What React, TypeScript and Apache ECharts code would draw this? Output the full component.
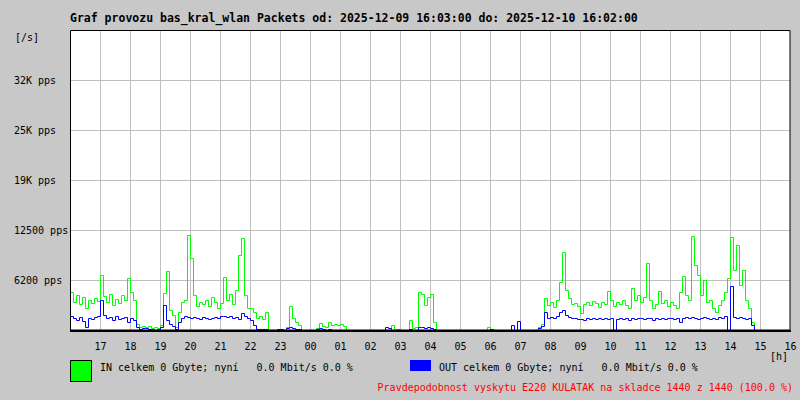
import React, { useEffect, useRef } from 'react';
import * as echarts from 'echarts';

// minutes per sample (starts at 16:00)
const STEP_MIN = 6;

// IN packets [pps]
const inPps = [
  4750, 3500, 4375, 3250, 4125, 2750, 3750, 3375, 4000, 3625,
  6875, 4250, 3500, 4500, 3125, 3875, 3375, 4375, 3750, 6500,
  4750, 3750, 750, 375, 500, 375, 500, 250, 375, 250,
  625, 4625, 7375, 2500, 1875, 375, 2250, 3500, 3750, 11875,
  9000, 4375, 3000, 3500, 3250, 3750, 3000, 4125, 3500, 2750,
  3375, 6625, 3750, 4500, 3250, 5000, 9375, 11500, 4375, 2750,
  2750, 2250, 1500, 1750, 1375, 2250, 0, 0, 0, 0,
  0, 0, 375, 3000, 1500, 1000, 625, 0, 0, 0,
  0, 0, 250, 875, 500, 375, 1000, 625, 750, 625,
  750, 500, 0, 0, 0, 0, 0, 0, 0, 0,
  0, 0, 0, 0, 0, 0, 0, 625, 125, 125,
  0, 0, 0, 1250, 250, 375, 4750, 4500, 3125, 4125,
  4500, 1000, 0, 0, 0, 0, 0, 0, 0, 0,
  0, 0, 0, 0, 0, 0, 0, 0, 0, 375,
  0, 0, 0, 0, 0, 0, 0, 0, 0, 0,
  0, 0, 0, 0, 0, 0, 375, 750, 4000, 3125,
  3500, 2875, 3750, 6000, 9750, 5000, 4000, 3250, 3375, 3000,
  2125, 3250, 3500, 3125, 3625, 3375, 2875, 3500, 3250, 4875,
  3750, 3000, 3500, 3250, 3750, 3125, 2750, 5250, 3750, 4375,
  3500, 4125, 8375, 3750, 2750, 3250, 4875, 3375, 3750, 3000,
  3500, 3125, 2750, 4750, 6750, 4375, 3750, 11750, 8125, 6875,
  4375, 6250, 3500, 3750, 2750, 2250, 3125, 3750, 4750, 6500,
  11625, 7500, 10625, 5625, 7500, 3750, 2750, 1000, 0, 0,
  0, 0, 0, 0, 0, 0, 0, 0, 0, 0,
];

// OUT packets [pps]
const outPps = [
  1750, 1500, 1250, 1625, 1125, 375, 1500, 1375, 1625, 1750,
  3750, 1875, 1500, 1625, 1250, 1750, 1375, 1500, 1625, 1000,
  1500, 1250, 375, 125, 250, 250, 125, 125, 0, 125,
  375, 3125, 1250, 750, 500, 125, 1000, 1500, 1750, 1625,
  1500, 1625, 1500, 1375, 1625, 1500, 1375, 1500, 1625, 1500,
  1750, 1750, 1625, 1750, 1500, 1625, 1375, 2125, 1750, 1500,
  1250, 625, 125, 125, 125, 125, 0, 0, 0, 125,
  125, 0, 250, 375, 250, 125, 125, 0, 0, 0,
  0, 0, 125, 250, 125, 0, 125, 0, 0, 0,
  0, 0, 0, 0, 0, 0, 0, 0, 0, 0,
  0, 0, 0, 0, 0, 375, 250, 0, 0, 0,
  0, 0, 0, 125, 0, 0, 375, 375, 250, 375,
  250, 125, 0, 0, 0, 0, 0, 0, 0, 0,
  0, 0, 0, 0, 0, 0, 0, 0, 0, 0,
  125, 0, 0, 0, 0, 0, 0, 625, 0, 1125,
  0, 0, 0, 0, 0, 0, 250, 500, 2250, 1500,
  1625, 1500, 1750, 2250, 2500, 1875, 1625, 1500, 1500, 1375,
  1375, 1250, 1500, 1375, 1500, 1375, 1500, 1375, 1500, 1375,
  1500, 0, 1375, 1500, 1375, 1500, 1250, 1500, 1375, 1500,
  1500, 1375, 1500, 1500, 1250, 1500, 1375, 1500, 1375, 1500,
  1500, 1375, 1500, 1000, 1500, 1625, 1500, 1625, 1500, 1375,
  1500, 1625, 1500, 1375, 1500, 1375, 1625, 1500, 1750, 0,
  5500, 1625, 1500, 1625, 1500, 1375, 1500, 625, 0, 0,
  0, 0, 0, 0, 0, 0, 0, 0, 0, 0,
];

const xTickLabels = ['', '17', '18', '19', '20', '21', '22', '23', '00', '01', '02', '03', '04',
  '05', '06', '07', '08', '09', '10', '11', '12', '13', '14', '15', '16'];
const yTickLabels = ['', '6200 pps', '12500 pps', '19K pps', '25K pps', '32K pps', ''];

const titleText = 'Graf provozu bas_kral_wlan Packets od: 2025-12-09 16:03:00 do: 2025-12-10 16:02:00';
const inLegend = 'IN celkem 0 Gbyte; nyní   0.0 Mbit/s 0.0 %';
const outLegend = 'OUT celkem 0 Gbyte; nyní   0.0 Mbit/s 0.0 %';
const footText = 'Pravdepodobnost vyskytu E220 KULATAK na skladce 1440 z 1440 (100.0 %)';

const MONO = '"DejaVu Sans Mono", "Liberation Mono", monospace';

export default function App() {
  const ref = useRef<HTMLDivElement>(null);
  useEffect(() => {
    const chart = echarts.init(ref.current!, null, { renderer: 'svg' });
    const option: any = {
      animation: false,
      backgroundColor: '#c8c8c8',
      grid: {
        left: 70.5, right: 9.5, top: 30.5, bottom: 69.5,
        show: true, backgroundColor: '#ffffff', borderWidth: 0,
      },
      xAxis: {
        type: 'value', min: 0, max: 1440, interval: 60,
        axisLine: { show: false }, axisTick: { show: false },
        splitLine: { show: true, lineStyle: { color: '#c0c0c0', width: 1 } },
        axisLabel: {
          formatter: (v: number) => xTickLabels[Math.round(v / 60)] ?? '',
          fontFamily: MONO, fontSize: 10, color: '#000', margin: 11,
          showMinLabel: false, showMaxLabel: true,
        },
      },
      yAxis: {
        type: 'value', min: 0, max: 37500, interval: 6250,
        axisLine: { show: false }, axisTick: { show: false },
        splitLine: { show: true, lineStyle: { color: '#c0c0c0', width: 1 } },
        axisLabel: {
          formatter: (v: number) => yTickLabels[Math.round(v / 6250)] ?? '',
          fontFamily: MONO, fontSize: 10, color: '#000', margin: 56.5, align: 'left',
          padding: [2, 0, 0, 0],
        },
      },
      series: [
        {
          type: 'line', step: 'end', symbol: 'none', silent: true,
          data: inPps.map((v, i) => [i * STEP_MIN, v]),
          lineStyle: { color: '#00ff00', width: 1 },
          itemStyle: { color: '#00ff00' },
          z: 2,
        },
        {
          type: 'line', step: 'end', symbol: 'none', silent: true,
          data: outPps.map((v, i) => [i * STEP_MIN, v]),
          lineStyle: { color: '#0000ff', width: 1 },
          itemStyle: { color: '#0000ff' },
          z: 3,
        },
      ],
      graphic: [
        {
          type: 'rect', z: 100, silent: true,
          shape: { x: 70.5, y: 30.5, width: 719.5, height: 299.5 },
          style: { fill: 'none', stroke: '#000', lineWidth: 1 },
        },
        {
          type: 'line', z: 101, silent: true,
          shape: { x1: 70, y1: 331, x2: 791, y2: 331 },
          style: { stroke: '#000', lineWidth: 2 },
        },
        {
          type: 'text', z: 100, x: 70, y: 18,
          style: { text: titleText, font: 'bold 11.5px ' + MONO, fill: '#000', align: 'left', verticalAlign: 'middle' },
        },
        {
          type: 'text', z: 100, x: 15, y: 37,
          style: { text: '[/s]', font: '10px ' + MONO, fill: '#000', align: 'left', verticalAlign: 'middle' },
        },
        {
          type: 'text', z: 100, x: 770, y: 356,
          style: { text: '[h]', font: '10px ' + MONO, fill: '#000', align: 'left', verticalAlign: 'middle' },
        },
        {
          type: 'rect', z: 100,
          shape: { x: 70.5, y: 360.5, width: 21, height: 21 },
          style: { fill: '#00ff00', stroke: '#000', lineWidth: 1 },
        },
        {
          type: 'text', z: 100, x: 100, y: 367,
          style: { text: inLegend, font: '10px ' + MONO, fill: '#000', align: 'left', verticalAlign: 'middle' },
        },
        {
          type: 'rect', z: 100,
          shape: { x: 410, y: 360, width: 21, height: 11 },
          style: { fill: '#0000ff' },
        },
        {
          type: 'text', z: 100, x: 439, y: 367,
          style: { text: outLegend, font: '10px ' + MONO, fill: '#000', align: 'left', verticalAlign: 'middle' },
        },
        {
          type: 'text', z: 100, x: 793, y: 387,
          style: { text: footText, font: '10px ' + MONO, fill: '#ff0000', align: 'right', verticalAlign: 'middle' },
        },
      ],
    };
    chart.setOption(option);
    return () => chart.dispose();
  }, []);
  return (
    <div
      ref={ref}
      style={{ position: 'fixed', left: 0, top: 0, width: 800, height: 400 }}
    />
  );
}
